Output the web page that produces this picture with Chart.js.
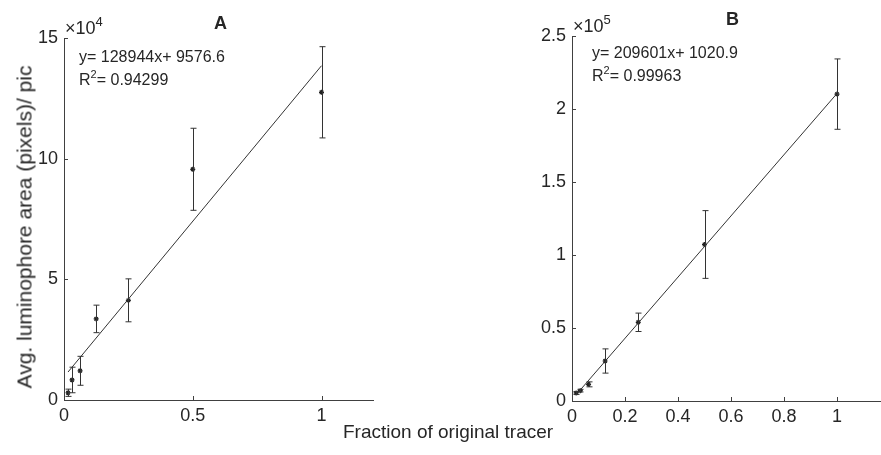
<!DOCTYPE html>
<html>
<head>
<meta charset="utf-8">
<script src="https://cdn.jsdelivr.net/npm/chart.js@4"></script>
<style>
  html, body { margin:0; padding:0; background:#fff; overflow:hidden; }
  body { width:881px; height:455px; position:relative; font-family:"Liberation Sans", Arial, sans-serif; color:#262626; }
  .wrap { position:absolute; top:0; height:455px; }
  .txt { position:absolute; white-space:nowrap; line-height:1; }
  .txt sup { font-size:11px; vertical-align:0; position:relative; top:-7px; }
  .exp { font-size:18px; }
  .exp sup { font-size:13px; top:-8px; }
  .ylab { left:24px; top:227px; font-size:21px; transform:translate(-50%, -50%) rotate(-90deg); }
</style>
</head>
<body>
<div class="wrap" style="left:0; width:440px;"><canvas id="chartA"></canvas></div>
<div class="wrap" style="left:440px; width:460px;"><canvas id="chartB"></canvas></div>

<div class="txt ylab">Avg. luminophore area (pixels)/ pic</div>

<div class="txt" style="left:214px; top:14px; font-size:18px; font-weight:bold;">A</div>
<div class="txt exp" style="left:65px; top:19px;">&times;10<sup>4</sup></div>
<div class="txt" style="left:79px; top:49px; font-size:16px;">y= 128944x+ 9576.6</div>
<div class="txt" style="left:79px; top:72px; font-size:16px;">R<sup>2</sup>= 0.94299</div>

<div class="txt" style="left:726px; top:10px; font-size:18px; font-weight:bold;">B</div>
<div class="txt exp" style="left:573px; top:17px;">&times;10<sup>5</sup></div>
<div class="txt" style="left:592px; top:45px; font-size:16px;">y= 209601x+ 1020.9</div>
<div class="txt" style="left:592px; top:68px; font-size:16px;">R<sup>2</sup>= 0.99963</div>

<div class="txt" style="left:343px; top:422px; font-size:19px;">Fraction of original tracer</div>

<script>
// x positions: dilution fractions of the original tracer
const fractions = [1/64, 1/32, 1/16, 1/8, 1/4, 1/2, 1];

// panel A
const meanA = [3000, 8300, 12100, 33600, 41300, 95600, 127500];
const errA  = [1500, 5300, 6000, 5700, 8900, 17000, 18900];
const fitA  = [128944, 9576.6];   // slope, intercept
const xTicksA = [0, 0.5, 1];
const yTicksA = [0, 50000, 100000, 150000];

// panel B
const meanB = [5500, 7100, 11400, 27400, 53900, 107200, 210200];
const errB  = [1000, 900, 1700, 8300, 6300, 23200, 24100];
const fitB  = [209601, 1020.9];
const xTicksB = [0, 0.2, 0.4, 0.6, 0.8, 1];
const yTicksB = [0, 50000, 100000, 150000, 200000, 250000];

const ink = '#262626';
const axisCol = '#404040';
const font = { family: '"Liberation Sans", Arial, sans-serif', size: 18 };

// vertical error bars with small caps
const errorBars = {
  id: 'errorBars',
  afterDatasetsDraw(chart) {
    const { ctx, scales: { x, y } } = chart;
    chart.data.datasets.forEach(ds => {
      if (!ds.errors) return;
      ctx.save();
      ctx.strokeStyle = '#333';
      ctx.lineWidth = 1;
      ds.data.forEach((p, i) => {
        const px = Math.round(x.getPixelForValue(p.x)) + 0.5;
        const top = y.getPixelForValue(p.y + ds.errors[i]);
        const bot = y.getPixelForValue(p.y - ds.errors[i]);
        ctx.beginPath();
        ctx.moveTo(px, top); ctx.lineTo(px, bot);
        ctx.moveTo(px - 3, top); ctx.lineTo(px + 3, top);
        ctx.moveTo(px - 3, bot); ctx.lineTo(px + 3, bot);
        ctx.stroke();
      });
      ctx.restore();
    });
  }
};

// MATLAB style ticks pointing into the plot
const inwardTicks = {
  id: 'inwardTicks',
  afterDraw(chart) {
    const { ctx, chartArea: a, scales: { x, y } } = chart;
    ctx.save();
    ctx.strokeStyle = axisCol;
    ctx.lineWidth = 1;
    ctx.beginPath();
    x.ticks.forEach(t => {
      const px = Math.round(x.getPixelForValue(t.value)) + 0.5;
      ctx.moveTo(px, a.bottom); ctx.lineTo(px, a.bottom - 4);
    });
    y.ticks.forEach(t => {
      const py = Math.round(y.getPixelForValue(t.value)) + 0.5;
      ctx.moveTo(a.left, py); ctx.lineTo(a.left + 4, py);
    });
    ctx.stroke();
    ctx.restore();
  }
};

function makePanel(id, mean, err, fit, xTicks, yTicks, yMax, yDiv, pad, yWidth, xHeight) {
  const pts = fractions.map((f, i) => ({ x: f, y: mean[i] }));
  const xs = [fractions[0], fractions[fractions.length - 1]];
  const line = xs.map(v => ({ x: v, y: fit[0] * v + fit[1] }));
  return new Chart(document.getElementById(id), {
    type: 'scatter',
    data: {
      datasets: [
        { data: line, type: 'line', showLine: true, borderColor: '#333', borderWidth: 1, pointRadius: 0, fill: false },
        { data: pts, errors: err, pointStyle: 'star', pointRadius: 2.5, borderColor: '#222', backgroundColor: '#222', borderWidth: 1.2 }
      ]
    },
    options: {
      responsive: true,
      maintainAspectRatio: false,
      animation: false,
      layout: { padding: pad },
      plugins: { legend: { display: false }, tooltip: { enabled: false } },
      scales: {
        x: {
          type: 'linear', min: 0, max: 1.2,
          afterBuildTicks: s => { s.ticks = xTicks.map(v => ({ value: v })); },
          afterFit: s => { s.height = xHeight; },
          grid: { display: false, drawTicks: false },
          border: { display: true, color: axisCol, width: 1 },
          ticks: { color: ink, font, padding: 5, maxRotation: 0, callback: v => String(Math.round(v * 10) / 10) }
        },
        y: {
          type: 'linear', min: 0, max: yMax,
          afterBuildTicks: s => { s.ticks = yTicks.map(v => ({ value: v })); },
          afterFit: s => { s.width = yWidth; },
          grid: { display: false, drawTicks: false },
          border: { display: true, color: axisCol, width: 1 },
          ticks: { color: ink, font, padding: 6, callback: v => String(Math.round(v / yDiv * 10) / 10) }
        }
      }
    },
    plugins: [errorBars, inwardTicks]
  });
}

makePanel('chartA', meanA, errA, fitA, xTicksA, yTicksA, 150000, 10000,
  { top: 38, right: 67, bottom: 0, left: 0 }, 64, 55);
makePanel('chartB', meanB, errB, fitB, xTicksB, yTicksB, 250000, 100000,
  { top: 36, right: 10, bottom: 0, left: 80 }, 52, 54);
</script>
</body>
</html>
